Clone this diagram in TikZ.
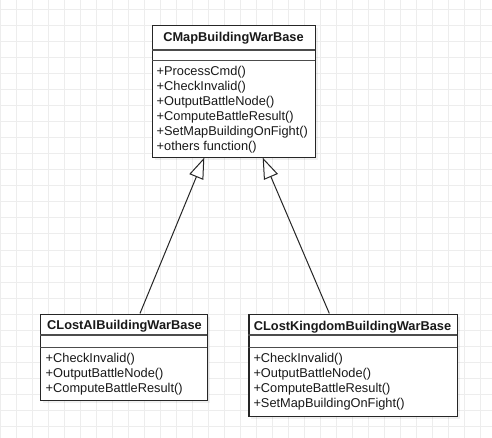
\documentclass[tikz,border=0pt]{standalone}
\usepackage{fontspec}
\setmainfont{Liberation Sans}
\usetikzlibrary{arrows.meta}
\begin{document}
\begin{tikzpicture}[x=1pt,y=-1pt,
  umlbox/.style={draw=black!85, line width=1.2pt, fill=white, inner sep=0pt, anchor=north west},
  boxshadow/.style={fill=black, opacity=0.06},
  sepline/.style={draw=black!70, line width=1.2pt},
  member/.style={anchor=west, inner sep=0pt, font=\fontsize{12.8}{15}\selectfont, text=black!90},
  classname/.style={inner sep=0pt, font=\fontsize{12.8}{15}\selectfont\bfseries, text=black!90},
  inherit/.style={draw=black!85, line width=1pt, -{Triangle[open, length=21pt, width=15pt, fill=white]}},
  gridline/.style={draw=black!7, line width=1pt}]
\useasboundingbox (0,0) rectangle (492,438);
\fill[white] (0,0) rectangle (492,438);
\foreach \x in {0,16,...,490} \draw[gridline] (\x,0) -- (\x,438);
\foreach \y in {10,26,...,437} \draw[gridline] (0,\y) -- (492,\y);

% ---- CMapBuildingWarBase
\fill[boxshadow] (155,28) rectangle (318,160);
\node[umlbox, minimum width=163pt, minimum height=132pt] (base) at (152,25) {};
\draw[sepline] (152,50) -- (315,50);
\draw[sepline] (152,60.5) -- (315,60.5);
\node[classname] (basetitle) at (233.5,38) {CMapBuildingWarBase};
\node[member] (b1) at (156.5,71.7) {+ProcessCmd()};
\node[member] (b2) at (156.5,86.7) {+CheckInvalid()};
\node[member] (b3) at (156.5,101.7) {+OutputBattleNode()};
\node[member] (b4) at (156.5,116.7) {+ComputeBattleResult()};
\node[member] (b5) at (156.5,131.7) {+SetMapBuildingOnFight()};
\node[member] (b6) at (156.5,146.7) {+others function()};

% ---- CLostAIBuildingWarBase
\fill[boxshadow] (43,317) rectangle (209.7,403);
\node[umlbox, minimum width=166.7pt, minimum height=86pt] (ai) at (40,314) {};
\draw[sepline] (40,335) -- (206.7,335);
\draw[sepline] (40,347.7) -- (206.7,347.7);
\node[classname] (aititle) at (124.5,326.5) {CLostAIBuildingWarBase};
\node[member] (a1) at (45.5,359.3) {+CheckInvalid()};
\node[member] (a2) at (45.5,374.3) {+OutputBattleNode()};
\node[member] (a3) at (45.5,389.3) {+ComputeBattleResult()};

% ---- CLostKingdomBuildingWarBase
\fill[boxshadow] (251.3,317) rectangle (459.5,418.5);
\node[umlbox, minimum width=208.2pt, minimum height=101.5pt] (kd) at (248.3,314) {};
\draw[sepline] (248.3,335) -- (456.5,335);
\draw[sepline] (248.3,347.7) -- (456.5,347.7);
\node[classname] (kdtitle) at (352.5,327) {CLostKingdomBuildingWarBase};
\node[member] (k1) at (253.3,359.3) {+CheckInvalid()};
\node[member] (k2) at (253.3,374.3) {+OutputBattleNode()};
\node[member] (k3) at (253.3,389.3) {+ComputeBattleResult()};
\node[member] (k4) at (253.3,404.3) {+SetMapBuildingOnFight()};

% ---- inheritance connectors
\coordinate (aitop) at (140,313.4);
\coordinate (kdtop) at (329.3,313.4);
\coordinate (tipL) at (204.3,157.6);
\coordinate (tipR) at (262.7,157.6);
\draw[inherit] (aitop) -- (tipL);
\draw[inherit] (kdtop) -- (tipR);
\end{tikzpicture}
\end{document}
